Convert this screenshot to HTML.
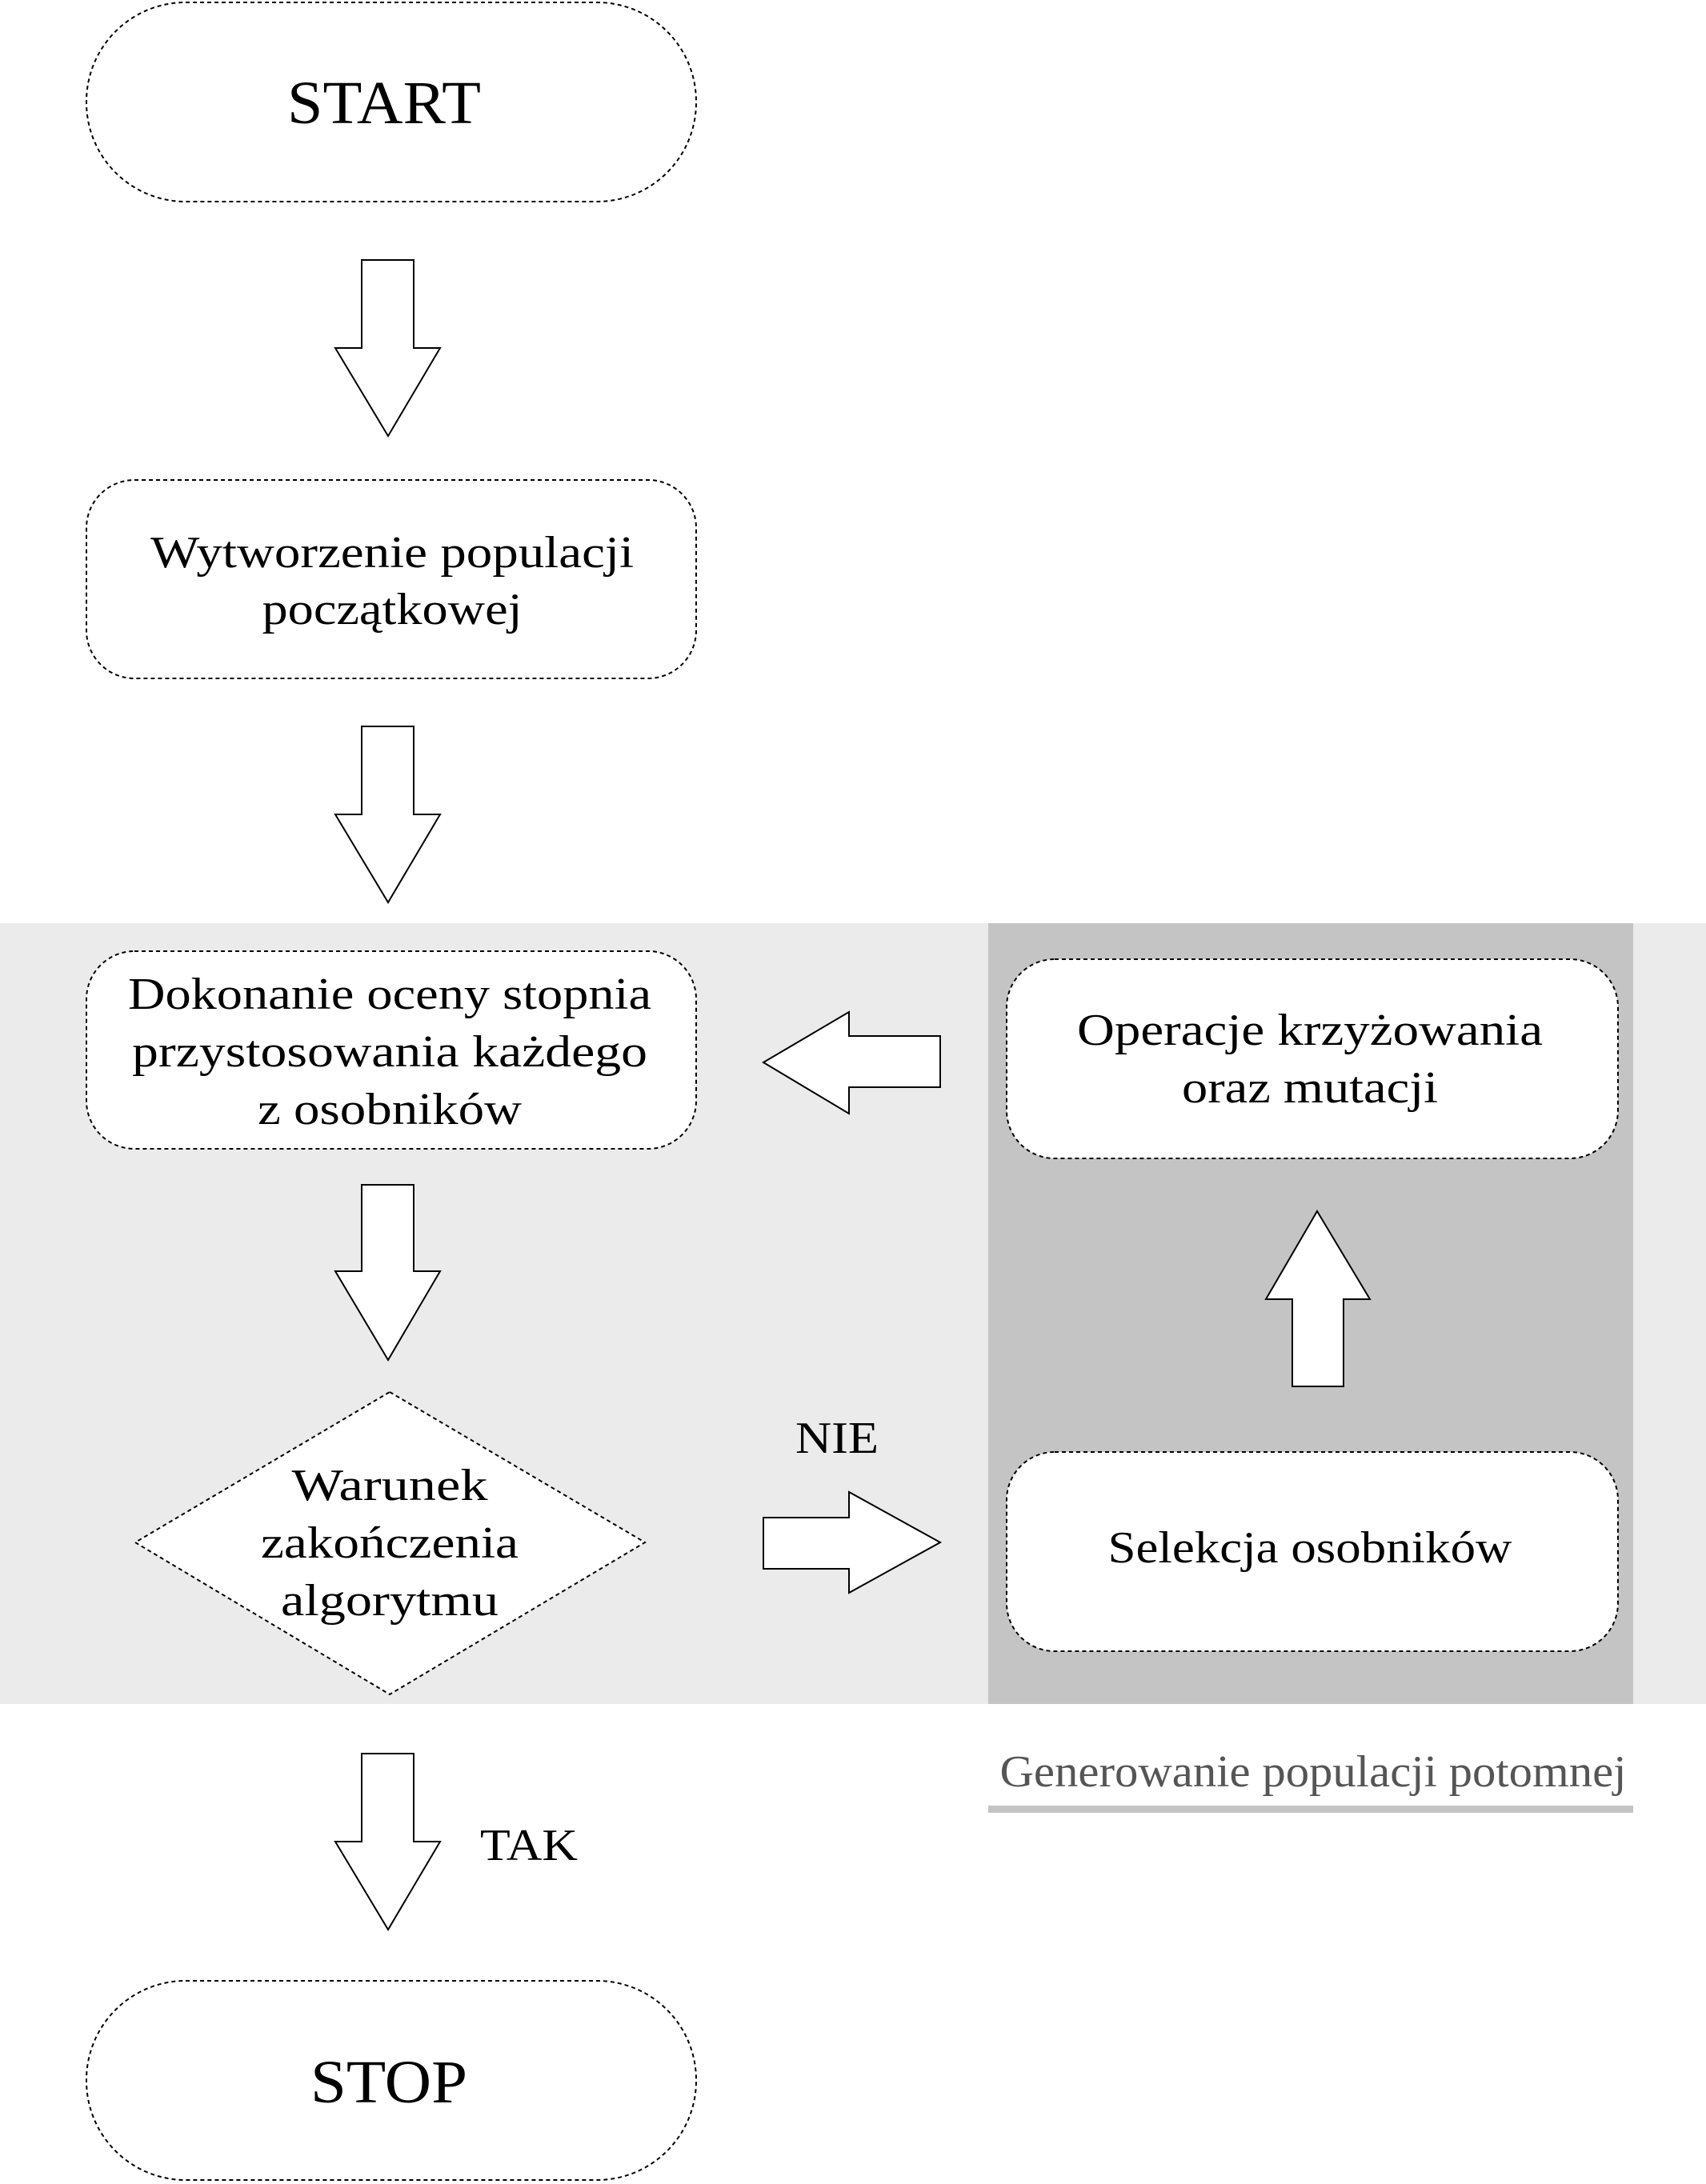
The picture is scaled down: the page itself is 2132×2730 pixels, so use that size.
<!DOCTYPE html>
<html><head><meta charset="utf-8"><style>html,body{margin:0;padding:0;background:#fff}svg{display:block}</style></head>
<body>
<svg width="2132" height="2730" viewBox="0 0 2132 2730" xmlns="http://www.w3.org/2000/svg" font-family="'Liberation Serif', serif" fill="#000">
<rect x="0" y="1154" width="2132" height="976" fill="#ebebeb"/>
<rect x="1235" y="1154" width="806" height="976" fill="#c4c4c4"/>
<rect x="1235" y="2257" width="806" height="9" fill="#c4c4c4"/>
<g fill="#fff" stroke="#000" stroke-width="2" stroke-dasharray="5,4">
<rect x="108" y="3" width="762" height="249" rx="124"/>
<rect x="108" y="600" width="762" height="248" rx="60"/>
<rect x="108" y="1189" width="762" height="247" rx="60"/>
<rect x="1258" y="1199" width="764" height="249" rx="60"/>
<rect x="1258" y="1815" width="764" height="249" rx="60"/>
<rect x="108" y="2476" width="762" height="249" rx="124"/>
<polygon points="487,1740 806,1928 487,2118 169,1928"/>
</g>
<g fill="#fff" stroke="#000" stroke-width="2">
<polygon points="452,325 517,325 517,435 550,435 485,545 419,435 452,435"/>
<polygon points="452,908 517,908 517,1018 550,1018 485,1128 419,1018 452,1018"/>
<polygon points="452,1481 517,1481 517,1589 550,1589 485,1700 419,1589 452,1589"/>
<polygon points="452,2192 517,2192 517,2302 550,2302 485,2412 419,2302 452,2302"/>
<polygon points="954,1328 1061,1265 1061,1295 1175,1295 1175,1359 1061,1359 1061,1392"/>
<polygon points="954,1897 1061,1897 1061,1865 1175,1928 1061,1991 1061,1961 954,1961"/>
<polygon points="1646,1514 1712,1624 1679,1624 1679,1733 1615,1733 1615,1624 1582,1624"/>
</g>
<g font-size="76" text-anchor="middle">
<text x="480" y="154" textLength="242" lengthAdjust="spacingAndGlyphs">START</text>
<text x="486" y="2628" textLength="196" lengthAdjust="spacingAndGlyphs">STOP</text>
</g>
<g font-size="56" text-anchor="middle">
<text x="490" y="709" textLength="604" lengthAdjust="spacingAndGlyphs">Wytworzenie populacji</text>
<text x="490" y="780" textLength="325" lengthAdjust="spacingAndGlyphs">początkowej</text>
<text x="487" y="1261" textLength="654" lengthAdjust="spacingAndGlyphs">Dokonanie oceny stopnia</text>
<text x="487" y="1333" textLength="644" lengthAdjust="spacingAndGlyphs">przystosowania każdego</text>
<text x="487" y="1405" textLength="330" lengthAdjust="spacingAndGlyphs">z osobników</text>
<text x="487" y="1875" textLength="245" lengthAdjust="spacingAndGlyphs">Warunek</text>
<text x="487" y="1947" textLength="322" lengthAdjust="spacingAndGlyphs">zakończenia</text>
<text x="487" y="2019" textLength="272" lengthAdjust="spacingAndGlyphs">algorytmu</text>
<text x="1637" y="1306" textLength="582" lengthAdjust="spacingAndGlyphs">Operacje krzyżowania</text>
<text x="1637" y="1378" textLength="320" lengthAdjust="spacingAndGlyphs">oraz mutacji</text>
<text x="1637" y="1953" textLength="505" lengthAdjust="spacingAndGlyphs">Selekcja osobników</text>
<text x="1046" y="1816" textLength="104" lengthAdjust="spacingAndGlyphs">NIE</text>
<text x="661" y="2325" textLength="122" lengthAdjust="spacingAndGlyphs">TAK</text>
<text x="1641" y="2233" fill="#555" textLength="783" lengthAdjust="spacingAndGlyphs">Generowanie populacji potomnej</text>
</g>
</svg>
</body></html>
